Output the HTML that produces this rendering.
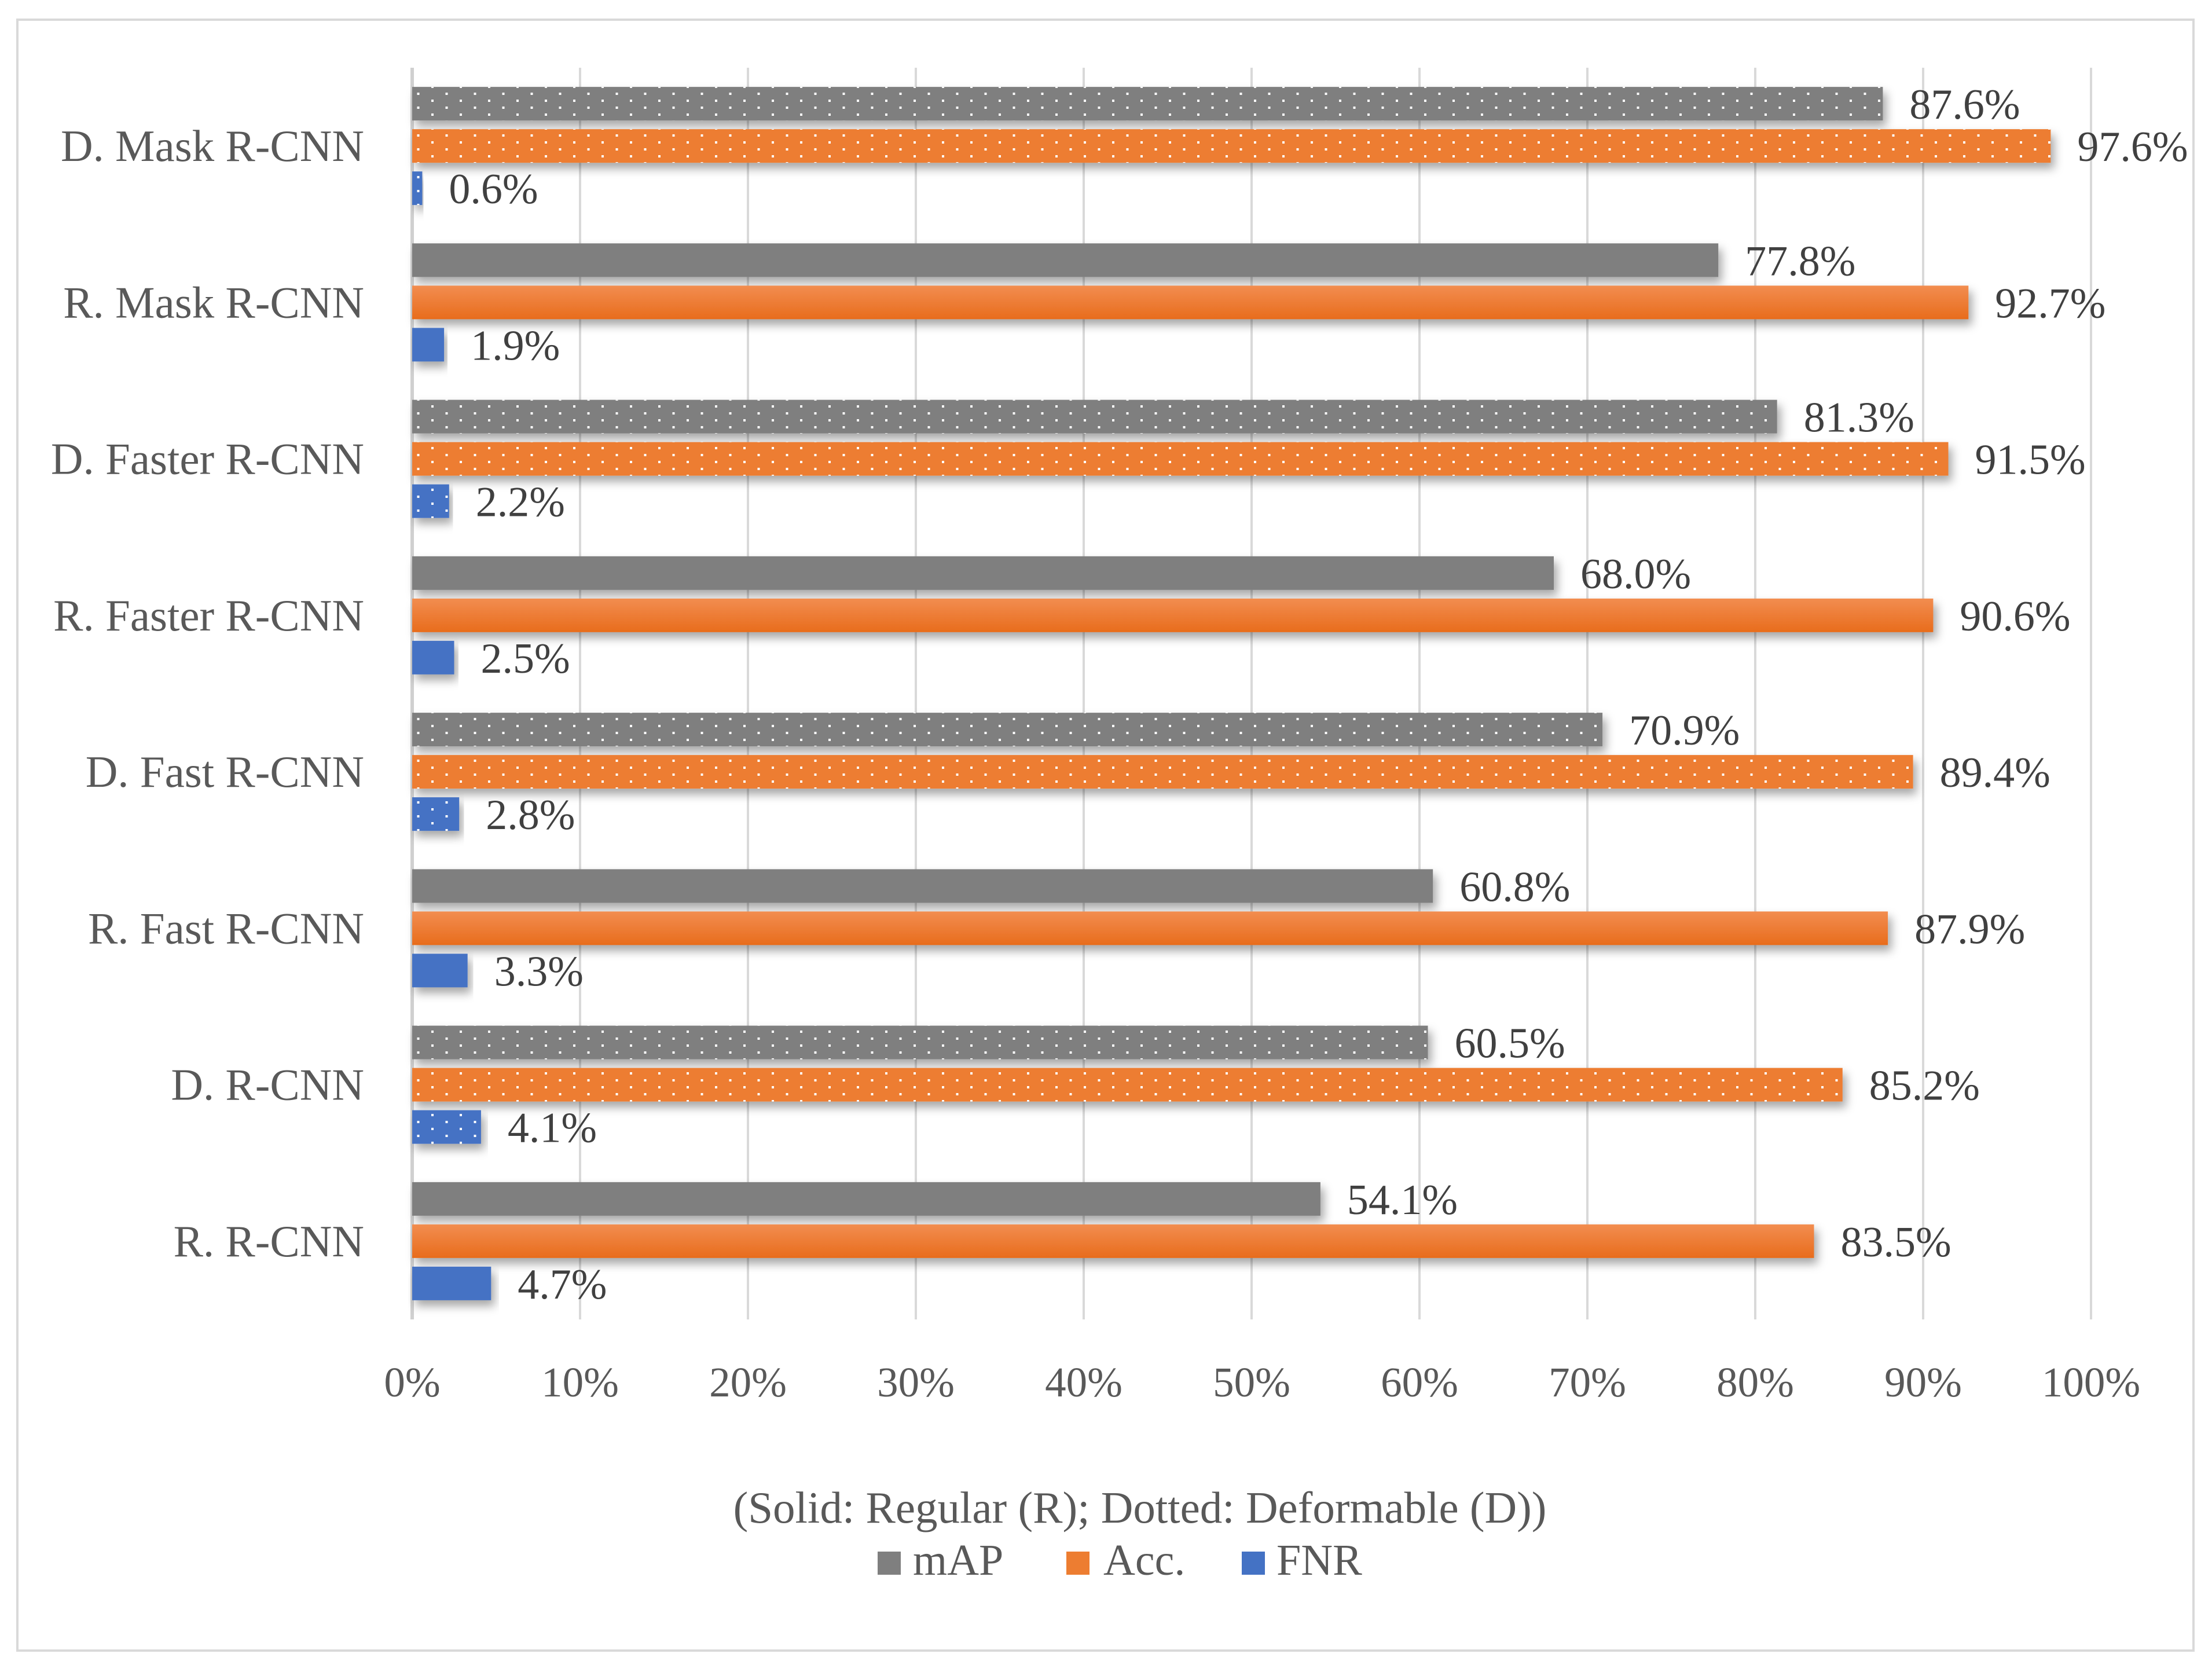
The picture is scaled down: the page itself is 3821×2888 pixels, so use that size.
<!DOCTYPE html>
<html><head><meta charset="utf-8"><style>
html,body{margin:0;padding:0;background:#fff;}
svg{display:block;font-family:"Liberation Serif",serif;}
</style></head><body>
<svg id="chart" width="3821" height="2888" viewBox="0 0 3821 2888">
<defs>
<pattern id="dots" width="49" height="24" patternUnits="userSpaceOnUse">
<rect x="10" y="4" width="4" height="4" fill="#fff"/>
<rect x="34.5" y="16" width="4" height="4" fill="#fff"/>
</pattern>
<filter id="sh" x="-5%" y="-40%" width="115%" height="200%">
<feDropShadow dx="6" dy="10" stdDeviation="8" flood-color="#000" flood-opacity="0.35"/>
</filter>
<linearGradient id="gOr" x1="0" y1="0" x2="0" y2="1"><stop offset="0" stop-color="#f28d50"/><stop offset="1" stop-color="#e86c1c"/></linearGradient>
</defs>
<rect x="30" y="34" width="3759" height="2817" fill="#fff" stroke="#d9d9d9" stroke-width="4"/>
<g id="grid"></g>
<g id="bars"></g>
<g id="labels"></g>
<text x="1969" y="2630" text-anchor="middle" font-size="77" fill="#595959">(Solid: Regular (R); Dotted: Deformable (D))</text>
<g>
<g><rect x="1516" y="2680" width="40" height="40" fill="#7f7f7f"/><text x="1577" y="2720" font-size="76" fill="#595959">mAP</text></g>
<g><rect x="1842" y="2680" width="40" height="40" fill="#ed7d31"/><text x="1906" y="2720" font-size="76" fill="#595959">Acc.</text></g>
<g><rect x="2145" y="2680" width="40" height="40" fill="#4472c4"/><text x="2205" y="2720" font-size="76" fill="#595959">FNR</text></g>
</g>
</svg>
<script>
const categories = ["D. Mask R-CNN","R. Mask R-CNN","D. Faster R-CNN","R. Faster R-CNN","D. Fast R-CNN","R. Fast R-CNN","D. R-CNN","R. R-CNN"];
const mapValues = [87.6,77.8,81.3,68.0,70.9,60.8,60.5,54.1];
const accValues = [97.6,92.7,91.5,90.6,89.4,87.9,85.2,83.5];
const fnrValues = [0.6,1.9,2.2,2.5,2.8,3.3,4.1,4.7];
const deformable = [true,false,true,false,true,false,true,false];
const xTicks = [0,10,20,30,40,50,60,70,80,90,100];

const NS="http://www.w3.org/2000/svg";
const X0=712, X1=3612, PT=117, PB=2279;
function xs(v){return X0+(X1-X0)*v/100;}
const band=(PB-PT)/categories.length;
function yc(i){return PT+band*(i+0.5);}
function mk(tag,attrs,parent){const e=document.createElementNS(NS,tag);for(const k in attrs)e.setAttribute(k,attrs[k]);parent.appendChild(e);return e;}
const grid=document.getElementById('grid'), bars=document.getElementById('bars'), labels=document.getElementById('labels');
xTicks.forEach(t=>{
  const l=mk('line',{x1:xs(t),x2:xs(t),y1:PT,y2:PB,stroke:t===0?'#d0d0d0':'#d9d9d9','stroke-width':t===0?6:4},grid);
  
  
  const tx=mk('text',{x:xs(t),y:2412,'text-anchor':'middle','font-size':73,fill:'#595959'},labels);
  tx.textContent=t+'%';
  
  
});
const series=[{vals:mapValues,col:'#7f7f7f',n:'map',off:-73},{vals:accValues,col:'url(#gOr)',solid:'#ed7d31',n:'acc',off:0},{vals:fnrValues,col:'#4472c4',n:'fnr',off:73}];
const BH=58;
categories.forEach((c,i)=>{
  const cl=mk('text',{x:629,y:yc(i)+26,'text-anchor':'end','font-size':77,fill:'#595959'},labels);
  cl.textContent=c;
  
  
  series.forEach(s=>{
    const v=s.vals[i], y=yc(i)+s.off-BH/2, w=xs(v)-X0;
    const fill=deformable[i]?(s.solid||s.col):s.col;
    const r=mk('rect',{x:X0,y:y,width:w,height:BH,fill:fill,filter:'url(#sh)'},bars);
    
    
    if(deformable[i]){
      const p=mk('rect',{x:X0,y:y,width:w,height:BH,fill:'url(#dots)'},bars);
      
      
    }
    const t=mk('text',{x:xs(v)+46,y:yc(i)+s.off+26,'font-size':74,fill:'#404040'},labels);
    t.textContent=v.toFixed(1)+'%';
    
    
  });
});
</script>
</body></html>
